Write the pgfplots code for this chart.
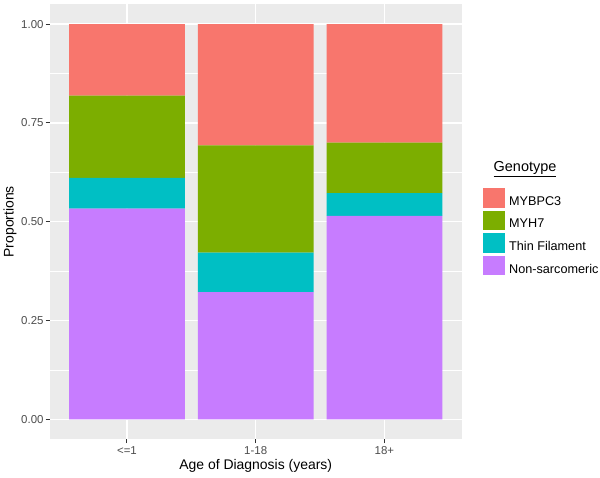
\documentclass[border=0pt]{standalone}
\usepackage{pgfplots}
\pgfplotsset{compat=1.18}
\usepackage{fontspec}
\setmainfont{Liberation Sans}
\definecolor{cMYBPC3}{HTML}{F8766D}
\definecolor{cMYH7}{HTML}{7CAE00}
\definecolor{cThin}{HTML}{00BFC4}
\definecolor{cNon}{HTML}{C77CFF}
\definecolor{panel}{HTML}{EBEBEB}
\definecolor{ticktext}{HTML}{4D4D4D}
\definecolor{tickmark}{HTML}{333333}
\begin{document}
\begin{tikzpicture}
\path[use as bounding box, fill=white] (0,0) rectangle (600bp,478bp);
\begin{axis}[
  at={(49.7bp,38.9bp)}, anchor=south west,
  width=412bp, height=434.8bp, scale only axis,
  ybar stacked, bar width=0.9, bar shift=0pt,
  xmin=0.4, xmax=3.6, ymin=-0.05, ymax=1.05,
  xtick={1,2,3}, xticklabels={{<=1},{1-18},{18+}},
  ytick={0,0.25,0.5,0.75,1},
  minor ytick={0.125,0.375,0.625,0.875},
  yticklabel style={/pgf/number format/fixed, /pgf/number format/fixed zerofill, /pgf/number format/precision=2, inner sep=2bp},
  /pgf/number format/assume math mode=true,
  axis background/.style={fill=panel},
  axis line style={draw=none},
  tick align=outside, xtick pos=bottom, ytick pos=left,
  major tick length=4bp, minor tick length=0pt,
  tick style={color=tickmark, line width=1bp},
  grid=both,
  major grid style={white, line width=1.4bp},
  minor grid style={white, line width=0.7bp},
  tick label style={font=\fontsize{11.5}{13}\selectfont, text=ticktext},
  xticklabel style={inner sep=3bp},
  xlabel={Age of Diagnosis (years)},
  ylabel={Proportions},
  label style={font=\fontsize{14}{16}\selectfont, text=black},
  xlabel style={at={(axis description cs:0.5,-0.0619)}, anchor=center},
  ylabel style={at={(axis description cs:-0.0964,0.5)}, anchor=center},
  reverse legend,
  legend cell align=left,
  legend style={at={(rel axis cs:1.0517,0.5775)}, anchor=north west,
    draw=none, fill=none, inner sep=0pt,
    font=\fontsize{12.7}{14}\selectfont,
    row sep=3bp, column sep=4bp,
    nodes={inner sep=0pt}},
  legend image code/.code={\fill[#1] (0bp,-6bp) rectangle (22bp,13.5bp);},
  clip=false,
]
\addplot[fill=cNon, draw=none] coordinates {(1,0.533) (2,0.322) (3,0.515)};
\addlegendentry{Non-sarcomeric}
\addplot[fill=cThin, draw=none] coordinates {(1,0.078) (2,0.100) (3,0.057)};
\addlegendentry{Thin Filament}
\addplot[fill=cMYH7, draw=none] coordinates {(1,0.208) (2,0.271) (3,0.128)};
\addlegendentry{MYH7}
\addplot[fill=cMYBPC3, draw=none] coordinates {(1,0.181) (2,0.307) (3,0.300)};
\addlegendentry{MYBPC3}
\node[font=\fontsize{14.5}{16}\selectfont, anchor=center] at (rel axis cs:1.1537,0.6212) {\underline{Genotype}};
\end{axis}
\end{tikzpicture}
\end{document}
